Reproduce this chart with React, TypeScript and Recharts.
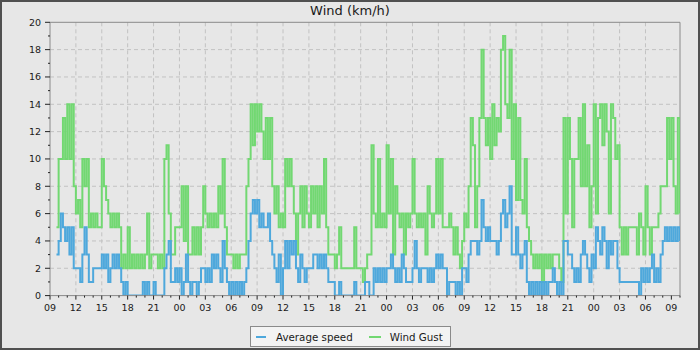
import { CartesianGrid, Line, LineChart, ReferenceLine, XAxis, YAxis } from "recharts";

// readings every 15 minutes, first one at 09:45 (quarter 3 after 09:00)
const START_QUARTER = 3;

const gustDay1Day = [5, 10, 10, 13, 10, 14, 10, 14, 8, 6, 7, 5, 10, 8, 10, 5, 6, 5, 6, 5, 5, 10, 8, 7, 6, 5, 6, 5, 6, 5, 2, 3, 2, 5, 2, 3, 2, 3, 2, 3, 2, 3, 6, 2, 3];
const gustDay1Night = [3, 3, 2, 3, 2, 10, 11, 6, 3, 3, 5, 5, 5, 8, 4, 8, 3, 3, 5, 3, 5, 3, 5, 8, 6, 5, 6, 5, 6, 5, 8, 6, 10, 5, 3, 3, 3, 2, 3, 2, 3, 3, 3, 8, 10, 14, 11, 14];
const gustDay2Day = [12, 14, 12, 10, 13, 10, 13, 8, 6, 8, 5, 6, 5, 10, 8, 10, 8, 6, 3, 6, 8, 5, 8, 6, 5, 8, 6, 8, 5, 8, 6, 10, 5, 3, 3, 3, 2, 3, 5, 2, 2, 2, 2, 2, 2, 5, 2, 2];
const gustDay2Night = [2, 1, 2, 3, 3, 11, 6, 5, 10, 5, 6, 5, 11, 6, 10, 3, 8, 6, 5, 6, 3, 6, 5, 6, 10, 6, 5, 6, 5, 6, 3, 8, 6, 5, 6, 10, 6, 10, 5, 5, 5, 6, 5, 3, 5, 3, 2, 4];
const gustDay3Day = [6, 5, 8, 13, 11, 5, 8, 13, 18, 13, 11, 13, 10, 14, 11, 13, 12, 18, 19, 14, 13, 18, 10, 14, 7, 13, 7, 6, 10, 5, 4, 3, 2, 3, 2, 3, 1, 3, 2, 3, 2, 3, 3, 3, 2, 1, 13, 6];
const gustDay3Night = [13, 10, 5, 10, 10, 13, 8, 14, 8, 11, 5, 8, 14, 6, 13, 14, 11, 14, 12, 6, 14, 13, 10, 11, 5, 3, 5, 3, 5, 5, 5, 5, 3, 6, 5, 3, 8, 5, 3, 5, 5, 5, 6, 8, 8, 8, 13, 10];
const gustDay4Day = [13, 8, 6, 13, 6];

const avgDay1Day = [3, 4, 6, 5, 4, 5, 3, 5, 2, 2, 2, 1, 3, 5, 3, 1, 1, 2, 2, 2, 2, 3, 2, 3, 1, 2, 3, 2, 3, 2, 1, 0, 1, 0, 0, 0, 0, 0, 0, 0, 1, 0, 1, 0, 0];
const avgDay1Night = [1, 0, 0, 0, 0, 2, 3, 4, 1, 1, 2, 1, 2, 0, 1, 3, 1, 0, 1, 1, 0, 1, 2, 2, 1, 2, 1, 3, 2, 3, 2, 1, 4, 2, 1, 0, 1, 0, 1, 0, 1, 0, 1, 2, 4, 6, 7, 6];
const avgDay2Day = [7, 5, 6, 5, 5, 6, 4, 3, 2, 1, 3, 0, 2, 4, 2, 4, 3, 4, 2, 1, 3, 2, 1, 2, 2, 2, 3, 3, 2, 3, 2, 3, 2, 1, 1, 1, 0, 0, 1, 0, 0, 0, 0, 0, 0, 1, 0, 0];
const avgDay2Night = [0, 0, 1, 1, 0, 0, 2, 1, 2, 1, 2, 1, 2, 2, 3, 2, 1, 2, 1, 3, 2, 1, 1, 1, 2, 4, 2, 1, 2, 2, 2, 1, 2, 1, 2, 3, 2, 3, 2, 2, 0, 1, 1, 1, 0, 1, 0, 2];
const avgDay3Day = [2, 1, 3, 4, 4, 4, 3, 4, 7, 5, 4, 5, 4, 4, 4, 3, 4, 6, 7, 5, 6, 8, 3, 3, 5, 3, 2, 3, 4, 1, 0, 1, 0, 1, 0, 1, 0, 1, 0, 1, 1, 2, 1, 0, 1, 0, 4, 4];
const avgDay3Night = [3, 3, 2, 1, 2, 1, 3, 4, 3, 2, 1, 3, 2, 5, 4, 3, 5, 4, 2, 4, 3, 4, 4, 2, 1, 1, 1, 1, 1, 1, 1, 1, 1, 0, 2, 1, 2, 1, 2, 3, 1, 2, 1, 3, 4, 5, 4, 5];
const avgDay4Day = [4, 5, 4, 5, 4];

const xLabels = ["09", "12", "15", "18", "21", "00", "03", "06", "09", "12", "15", "18", "21", "00", "03", "06", "09", "12", "15", "18", "21", "00", "03", "06", "09"];
const yLabels = [0, 2, 4, 6, 8, 10, 12, 14, 16, 18, 20];

const gustSeries = [...gustDay1Day, ...gustDay1Night, ...gustDay2Day, ...gustDay2Night, ...gustDay3Day, ...gustDay3Night, ...gustDay4Day];
const avgSeries = [...avgDay1Day, ...avgDay1Night, ...avgDay2Day, ...avgDay2Night, ...avgDay3Day, ...avgDay3Night, ...avgDay4Day];
const data = gustSeries.map((gust, i) => ({ hour: (START_QUARTER + i) / 4, gust, avg: avgSeries[i] }));

const HOURS = 73;
const hourTicks = Array.from({ length: HOURS + 1 }, (_, i) => i);
const majorHours = xLabels.map((_, i) => i * 3);
const unitTicks = Array.from({ length: 21 }, (_, i) => i);

const BLUE = "#4ea8dc";
const GREEN = "#72d872";
const FONT = "'DejaVu Sans', sans-serif";

function HourTick({ x, y, payload }: any) {
  const v = payload.value as number;
  const major = v % 3 === 0;
  return (
    <g>
      <line x1={x} y1={y} x2={x} y2={y + (major ? 4 : 2)} stroke="#222" />
      {major && (
        <text x={x} y={y + 15.5} textAnchor="middle" fontSize={9.5} fontFamily={FONT} fill="#1a1a1a">
          {xLabels[v / 3]}
        </text>
      )}
    </g>
  );
}

function SpeedTick({ x, y, payload }: any) {
  const v = payload.value as number;
  const major = v % 2 === 0;
  return (
    <g>
      <line x1={x - (major ? 5 : 2)} y1={y} x2={x} y2={y} stroke="#222" />
      {major && (
        <text x={x - 9} y={y + 3.5} textAnchor="end" fontSize={9.5} fontFamily={FONT} fill="#1a1a1a">
          {v}
        </text>
      )}
    </g>
  );
}

export default function App() {
  return (
    <div
      style={{
        position: "absolute",
        left: 0,
        top: 0,
        width: 700,
        height: 350,
        boxSizing: "border-box",
        border: "2px solid #505050",
        background: "#e7e7e7",
        fontFamily: FONT,
      }}
    >
      <div style={{ position: "absolute", left: -2, top: 1, width: 700, textAlign: "center", fontSize: 13, color: "#1a1a1a" }}>
        Wind (km/h)
      </div>
      <div style={{ position: "absolute", left: -2, top: -2 }}>
        <LineChart width={700} height={350} data={data} margin={{ top: 22.3, right: 20, bottom: 24.4, left: 10 }}>
          <CartesianGrid
            stroke="#c2c2c2"
            strokeDasharray="4 3"
            verticalValues={majorHours.slice(1, -1)}
            horizontalValues={yLabels.slice(1, -1)}
          />
          <XAxis
            dataKey="hour"
            type="number"
            domain={[0, HOURS]}
            ticks={hourTicks}
            interval={0}
            height={30}
            tickSize={0}
            tickMargin={0}
            tickLine={false}
            axisLine={{ stroke: "#8a8a8a" }}
            tick={<HourTick />}
            allowDataOverflow
          />
          <YAxis
            type="number"
            domain={[0, 20]}
            ticks={unitTicks}
            interval={0}
            width={40}
            tickSize={0}
            tickMargin={0}
            tickLine={false}
            axisLine={{ stroke: "#8a8a8a" }}
            tick={<SpeedTick />}
            allowDataOverflow
          />
          <ReferenceLine y={20} stroke="#8a8a8a" />
          <ReferenceLine x={HOURS} stroke="#8a8a8a" />
          <Line type="stepAfter" dataKey="gust" name="Wind Gust" stroke={GREEN} strokeWidth={2} dot={false} isAnimationActive={false} />
          <Line type="stepAfter" dataKey="avg" name="Average speed" stroke={BLUE} strokeWidth={2} dot={false} isAnimationActive={false} />
        </LineChart>
      </div>
      <div
        style={{
          position: "absolute",
          left: 248,
          top: 324,
          width: 201,
          height: 21,
          boxSizing: "border-box",
          border: "1px solid #8a8a8a",
          background: "#f3f3f3",
          fontSize: 10.3,
          color: "#1a1a1a",
          display: "flex",
          alignItems: "center",
        }}
      >
        <span style={{ marginLeft: 5, width: 10, height: 2, background: BLUE, display: "inline-block" }} />
        <span style={{ marginLeft: 10 }}>Average speed</span>
        <span style={{ marginLeft: 16, width: 12, height: 2, background: GREEN, display: "inline-block" }} />
        <span style={{ marginLeft: 9 }}>Wind Gust</span>
      </div>
    </div>
  );
}
